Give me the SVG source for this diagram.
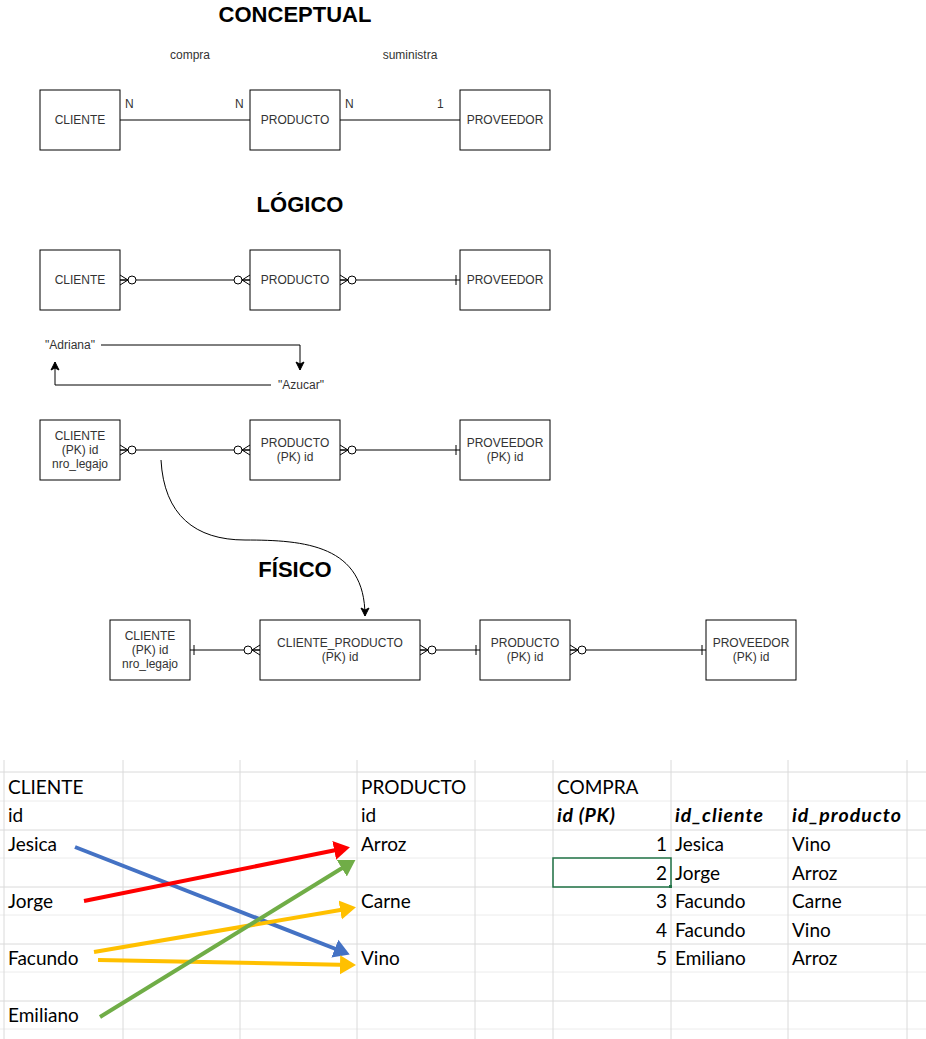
<svg xmlns="http://www.w3.org/2000/svg" width="926" height="1039" viewBox="0 0 926 1039">
<style>
.box{fill:#fff;stroke:#000;stroke-width:1}
.t{font-family:"Liberation Sans",Arial,sans-serif;font-size:12px;fill:#333;text-anchor:middle}
.lbl{font-family:"Liberation Sans",Arial,sans-serif;font-size:12px;fill:#333}
.title{font-family:"Liberation Sans",Arial,sans-serif;font-size:22px;font-weight:bold;fill:#000;text-anchor:middle}
.ln{fill:none;stroke:#000;stroke-width:1}
.grid{stroke:#dadada;stroke-width:1}
.xl{font-family:Lato,"Open Sans",sans-serif;font-size:19px;fill:#000}
.xlb{font-family:Lato,"Open Sans",sans-serif;font-size:19.5px;fill:#000;font-weight:bold;font-style:italic}
.num{text-anchor:end}
.ca{fill:none;stroke-width:4}
</style>
<defs>
<marker id="zm" viewBox="-20 -10 24 20" markerWidth="24" markerHeight="20" refX="0" refY="0" markerUnits="userSpaceOnUse" orient="auto-start-reverse">
<path d="M0,-5 L-8,0 L0,5 M-8,0 L0,0" fill="none" stroke="#000" stroke-width="1"/>
<circle cx="-12" cy="0" r="4" fill="#fff" stroke="#000" stroke-width="1"/>
</marker>
<marker id="one" viewBox="-10 -10 14 20" markerWidth="14" markerHeight="20" refX="0" refY="0" markerUnits="userSpaceOnUse" orient="auto-start-reverse">
<path d="M-4,-5 L-4,5" fill="none" stroke="#000" stroke-width="1"/>
</marker>
<marker id="arr" viewBox="-10 -6 12 12" markerWidth="12" markerHeight="12" refX="0" refY="0" markerUnits="userSpaceOnUse" orient="auto">
<path d="M0,0 L-8,-4 L-6,0 L-8,4 Z" fill="#000" stroke="#000" stroke-width="1"/>
</marker>
<marker id="ab" viewBox="-4 -3 4 6" markerWidth="4" markerHeight="6" refX="-1" refY="0" markerUnits="strokeWidth" orient="auto">
<path d="M0,0 L-4,-2.4 L-4,2.4 Z" fill="#4472C4"/>
</marker>
<marker id="ar" viewBox="-4 -3 4 6" markerWidth="4" markerHeight="6" refX="-1" refY="0" markerUnits="strokeWidth" orient="auto">
<path d="M0,0 L-4,-2.4 L-4,2.4 Z" fill="#FF0000"/>
</marker>
<marker id="ay" viewBox="-4 -3 4 6" markerWidth="4" markerHeight="6" refX="-1" refY="0" markerUnits="strokeWidth" orient="auto">
<path d="M0,0 L-4,-2.4 L-4,2.4 Z" fill="#FFC000"/>
</marker>
<marker id="ag" viewBox="-4 -3 4 6" markerWidth="4" markerHeight="6" refX="-1" refY="0" markerUnits="strokeWidth" orient="auto">
<path d="M0,0 L-4,-2.4 L-4,2.4 Z" fill="#70AD47"/>
</marker>
</defs>
<rect width="926" height="1039" fill="#fff"/>

<!-- titles -->
<text class="title" x="295" y="22">CONCEPTUAL</text>
<text class="title" x="300" y="212">LÓGICO</text>
<text class="title" x="295" y="577">FÍSICO</text>

<!-- connectors -->
<g id="connectors">
<line class="ln" x1="120" y1="120" x2="250" y2="120"/>
<line class="ln" x1="340" y1="120" x2="460" y2="120"/>
<text class="t" x="190" y="59">compra</text>
<text class="t" x="410" y="59">suministra</text>
<text class="lbl" x="125" y="108">N</text>
<text class="lbl" x="235" y="108">N</text>
<text class="lbl" x="345" y="108">N</text>
<text class="lbl" x="437" y="108">1</text>

<line class="ln" x1="120" y1="280" x2="250" y2="280" marker-start="url(#zm)" marker-end="url(#zm)"/>
<line class="ln" x1="340" y1="280" x2="460" y2="280" marker-start="url(#zm)" marker-end="url(#one)"/>

<path class="ln" d="M101,345 H300 V370" marker-end="url(#arr)"/>
<path class="ln" d="M271,385 H55 V362" marker-end="url(#arr)"/>
<text class="t" x="70" y="349">"Adriana"</text>
<text class="t" x="301" y="389">"Azucar"</text>

<line class="ln" x1="120" y1="450" x2="250" y2="450" marker-start="url(#zm)" marker-end="url(#zm)"/>
<line class="ln" x1="340" y1="450" x2="460" y2="450" marker-start="url(#zm)" marker-end="url(#one)"/>

<path class="ln" d="M161,460 C164,515 195,540 245,540 C305,540 365,545 365,616" marker-end="url(#arr)"/>

<line class="ln" x1="190" y1="650" x2="260" y2="650" marker-start="url(#one)" marker-end="url(#zm)"/>
<line class="ln" x1="420" y1="650" x2="480" y2="650" marker-start="url(#zm)" marker-end="url(#one)"/>
<line class="ln" x1="570" y1="650" x2="706" y2="650" marker-start="url(#zm)" marker-end="url(#one)"/>
</g>

<!-- conceptual -->
<g id="c-cliente"><rect class="box" x="40" y="90" width="80" height="60"/><text class="t" x="80" y="124">CLIENTE</text></g>
<g id="c-producto"><rect class="box" x="250" y="90" width="90" height="60"/><text class="t" x="295" y="124">PRODUCTO</text></g>
<g id="c-proveedor"><rect class="box" x="460" y="90" width="90" height="60"/><text class="t" x="505" y="124">PROVEEDOR</text></g>

<!-- logical -->
<g id="l-cliente"><rect class="box" x="40" y="250" width="80" height="60"/><text class="t" x="80" y="284">CLIENTE</text></g>
<g id="l-producto"><rect class="box" x="250" y="250" width="90" height="60"/><text class="t" x="295" y="284">PRODUCTO</text></g>
<g id="l-proveedor"><rect class="box" x="460" y="250" width="90" height="60"/><text class="t" x="505" y="284">PROVEEDOR</text></g>

<g id="l2-cliente"><rect class="box" x="40" y="420" width="80" height="60"/><text class="t" x="80" y="440">CLIENTE</text><text class="t" x="80" y="454">(PK) id</text><text class="t" x="80" y="468">nro_legajo</text></g>
<g id="l2-producto"><rect class="box" x="250" y="420" width="90" height="60"/><text class="t" x="295" y="447">PRODUCTO</text><text class="t" x="295" y="461">(PK) id</text></g>
<g id="l2-proveedor"><rect class="box" x="460" y="420" width="90" height="60"/><text class="t" x="505" y="447">PROVEEDOR</text><text class="t" x="505" y="461">(PK) id</text></g>

<!-- physical -->
<g id="f-cliente"><rect class="box" x="110" y="620" width="80" height="60"/><text class="t" x="150" y="640">CLIENTE</text><text class="t" x="150" y="654">(PK) id</text><text class="t" x="150" y="668">nro_legajo</text></g>
<g id="f-cliente-producto"><rect class="box" x="260" y="620" width="160" height="60"/><text class="t" x="340" y="647">CLIENTE_PRODUCTO</text><text class="t" x="340" y="661">(PK) id</text></g>
<g id="f-producto"><rect class="box" x="480" y="620" width="90" height="60"/><text class="t" x="525" y="647">PRODUCTO</text><text class="t" x="525" y="661">(PK) id</text></g>
<g id="f-proveedor"><rect class="box" x="706" y="620" width="90" height="60"/><text class="t" x="751" y="647">PROVEEDOR</text><text class="t" x="751" y="661">(PK) id</text></g>

<!-- spreadsheet -->
<g id="sheet">
<g class="grid">
<line x1="0" y1="772" x2="926" y2="772"/>
<line x1="0" y1="801" x2="926" y2="801" stroke="#ececec"/>
<line x1="0" y1="830" x2="926" y2="830"/>
<line x1="0" y1="858" x2="926" y2="858" stroke="#ececec"/>
<line x1="0" y1="887" x2="926" y2="887"/>
<line x1="0" y1="915" x2="926" y2="915" stroke="#ececec"/>
<line x1="0" y1="944" x2="926" y2="944"/>
<line x1="0" y1="972" x2="926" y2="972" stroke="#ececec"/>
<line x1="0" y1="1001" x2="926" y2="1001"/>
<line x1="0" y1="1029" x2="926" y2="1029" stroke="#ececec"/>
<line x1="4" y1="760" x2="4" y2="1039"/>
<line x1="123" y1="760" x2="123" y2="1039"/>
<line x1="240" y1="760" x2="240" y2="1039"/>
<line x1="357" y1="760" x2="357" y2="1039"/>
<line x1="475" y1="760" x2="475" y2="1039"/>
<line x1="553" y1="760" x2="553" y2="1039"/>
<line x1="671" y1="760" x2="671" y2="1039"/>
<line x1="788" y1="760" x2="788" y2="1039"/>
<line x1="907" y1="760" x2="907" y2="1039"/>
</g>
<rect x="553" y="858" width="118" height="29" fill="none" stroke="#217346" stroke-width="1.5"/>
<rect x="669" y="885" width="3" height="3" fill="#217346"/>

<text class="xl" x="8" y="794">CLIENTE</text>
<text class="xl" x="8" y="822">id</text>
<text class="xl" x="8" y="851">Jesica</text>
<text class="xl" x="8" y="908">Jorge</text>
<text class="xl" x="8" y="965">Facundo</text>
<text class="xl" x="8" y="1022">Emiliano</text>

<text class="xl" x="361" y="794">PRODUCTO</text>
<text class="xl" x="361" y="822">id</text>
<text class="xl" x="361" y="851">Arroz</text>
<text class="xl" x="361" y="908">Carne</text>
<text class="xl" x="361" y="965">Vino</text>

<text class="xl" x="557" y="794">COMPRA</text>
<text class="xlb" x="557" y="822" textLength="58" lengthAdjust="spacing">id (PK)</text>
<text class="xlb" x="675" y="822" textLength="88" lengthAdjust="spacing">id_cliente</text>
<text class="xlb" x="792" y="822" textLength="109" lengthAdjust="spacing">id_producto</text>

<text class="xl num" x="667" y="851">1</text>
<text class="xl num" x="667" y="880">2</text>
<text class="xl num" x="667" y="908">3</text>
<text class="xl num" x="667" y="937">4</text>
<text class="xl num" x="667" y="965">5</text>
<text class="xl" x="675" y="851">Jesica</text>
<text class="xl" x="675" y="880">Jorge</text>
<text class="xl" x="675" y="908">Facundo</text>
<text class="xl" x="675" y="937">Facundo</text>
<text class="xl" x="675" y="965">Emiliano</text>
<text class="xl" x="792" y="851">Vino</text>
<text class="xl" x="792" y="880">Arroz</text>
<text class="xl" x="792" y="908">Carne</text>
<text class="xl" x="792" y="937">Vino</text>
<text class="xl" x="792" y="965">Arroz</text>

<g id="data-arrows">
<line class="ca" stroke="#4472C4" x1="75" y1="847" x2="346" y2="953" marker-end="url(#ab)"/>
<line class="ca" stroke="#FF0000" x1="84" y1="901" x2="346" y2="848" marker-end="url(#ar)"/>
<line class="ca" stroke="#FFC000" x1="94" y1="952" x2="352" y2="908" marker-end="url(#ay)"/>
<line class="ca" stroke="#FFC000" x1="98" y1="960" x2="352" y2="965" marker-end="url(#ay)"/>
<line class="ca" stroke="#70AD47" x1="100" y1="1017" x2="352" y2="862" marker-end="url(#ag)"/>
</g>
</g>
</svg>
